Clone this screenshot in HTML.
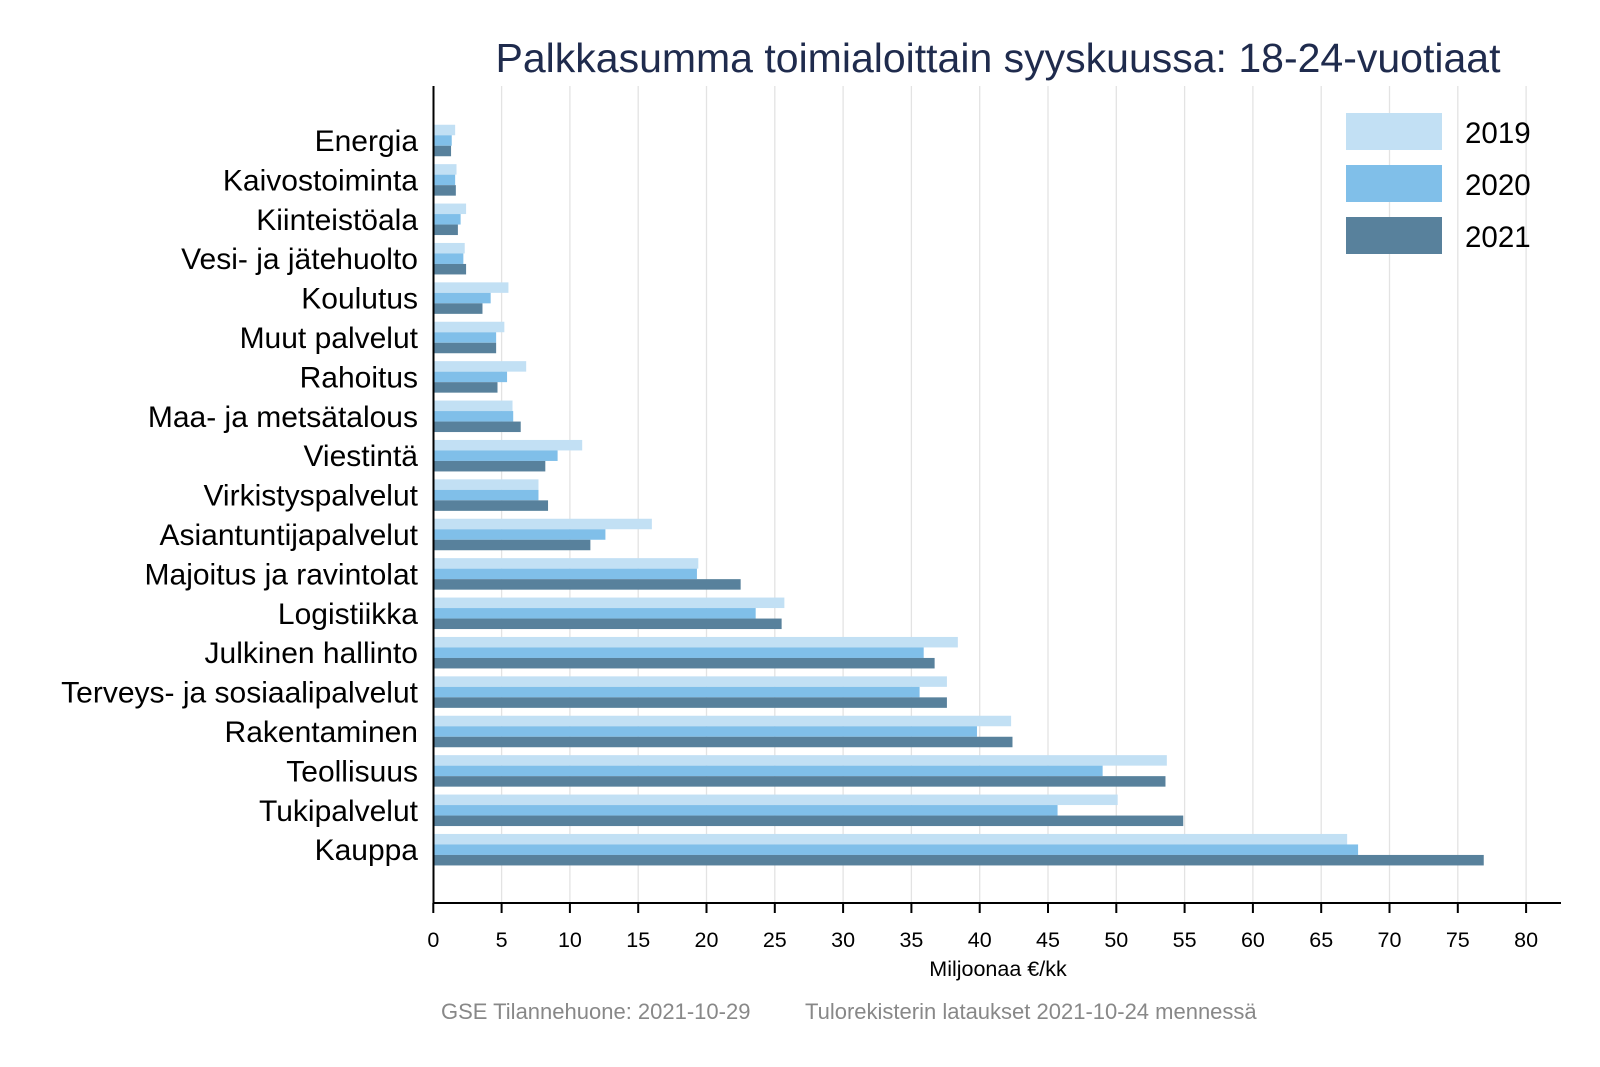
<!DOCTYPE html>
<html><head><meta charset="utf-8"><style>
html,body{margin:0;padding:0;background:#fff;}
svg{display:block;font-family:"Liberation Sans",Arial,sans-serif;}
</style></head><body>
<svg width="1600" height="1067" viewBox="0 0 1600 1067" xmlns="http://www.w3.org/2000/svg">
<rect width="1600" height="1067" fill="#fff"/>
<text x="998" y="72" font-size="41" fill="#1f2b4d" text-anchor="middle">Palkkasumma toimialoittain syyskuussa: 18-24-vuotiaat</text>
<g id="grid" stroke="#e3e3e3" stroke-width="1.3"></g>
<g id="bars"></g>
<g id="labels" font-size="30" fill="#000" text-anchor="end"></g>
<line x1="433.5" y1="86" x2="433.5" y2="904" stroke="#000" stroke-width="2"/>
<line x1="432.5" y1="903" x2="1561" y2="903" stroke="#000" stroke-width="2"/>
<g id="ticks" stroke="#000" stroke-width="2"></g>
<g id="tl" font-size="21.5" fill="#000" text-anchor="middle"></g>
<text x="998" y="976" font-size="21.5" text-anchor="middle" fill="#000">Miljoonaa €/kk</text>
<text x="441" y="1019" font-size="22" fill="#888">GSE Tilannehuone: 2021-10-29</text>
<text x="805" y="1019" font-size="22" fill="#888">Tulorekisterin lataukset 2021-10-24 mennessä</text>
<rect x="1346" y="113" width="96" height="37" fill="#c2e0f4"/>
<rect x="1346" y="165" width="96" height="37" fill="#80bfe9"/>
<rect x="1346" y="217" width="96" height="37" fill="#58819c"/>
<text x="1465" y="143" font-size="29.5">2019</text>
<text x="1465" y="195" font-size="29.5">2020</text>
<text x="1465" y="247" font-size="29.5">2021</text>
<script>
var d=[["Energia",1.6,1.35,1.3],["Kaivostoiminta",1.7,1.6,1.65],["Kiinteistöala",2.4,2.0,1.8],["Vesi- ja jätehuolto",2.3,2.2,2.4],["Koulutus",5.5,4.2,3.6],["Muut palvelut",5.2,4.6,4.6],["Rahoitus",6.8,5.4,4.7],["Maa- ja metsätalous",5.8,5.85,6.4],["Viestintä",10.9,9.1,8.2],["Virkistyspalvelut",7.7,7.7,8.4],["Asiantuntijapalvelut",16,12.6,11.5],["Majoitus ja ravintolat",19.4,19.3,22.5],["Logistiikka",25.7,23.6,25.5],["Julkinen hallinto",38.4,35.9,36.7],["Terveys- ja sosiaalipalvelut",37.6,35.6,37.6],["Rakentaminen",42.3,39.8,42.4],["Teollisuus",53.7,49,53.6],["Tukipalvelut",50.1,45.7,54.9],["Kauppa",66.9,67.7,76.9]];
var ns="http://www.w3.org/2000/svg",x0=433.3,k=13.66,cols=["#c2e0f4","#80bfe9","#58819c"];
function el(p,t,a,txt){var e=document.createElementNS(ns,t);for(var q in a)e.setAttribute(q,a[q]);if(txt!==undefined)e.textContent=txt;document.getElementById(p).appendChild(e);}
for(var i=1;i<=16;i++){var x=x0+i*5*k;el("grid","line",{x1:x,y1:86,x2:x,y2:902});}
for(var i=0;i<=16;i++){var x=x0+i*5*k;el("ticks","line",{x1:x,y1:903,x2:x,y2:913});el("tl","text",{x:x,y:947},String(i*5));}
d.forEach(function(r,i){var c=140.5+i*39.4;for(var j=0;j<3;j++){el("bars","rect",{x:x0,y:c-15.75+j*10.5,width:r[j+1]*k,height:10.5,fill:cols[j]});}
el("labels","text",{x:418,y:c+10.5},r[0]);});
</script>
</svg>
</body></html>
